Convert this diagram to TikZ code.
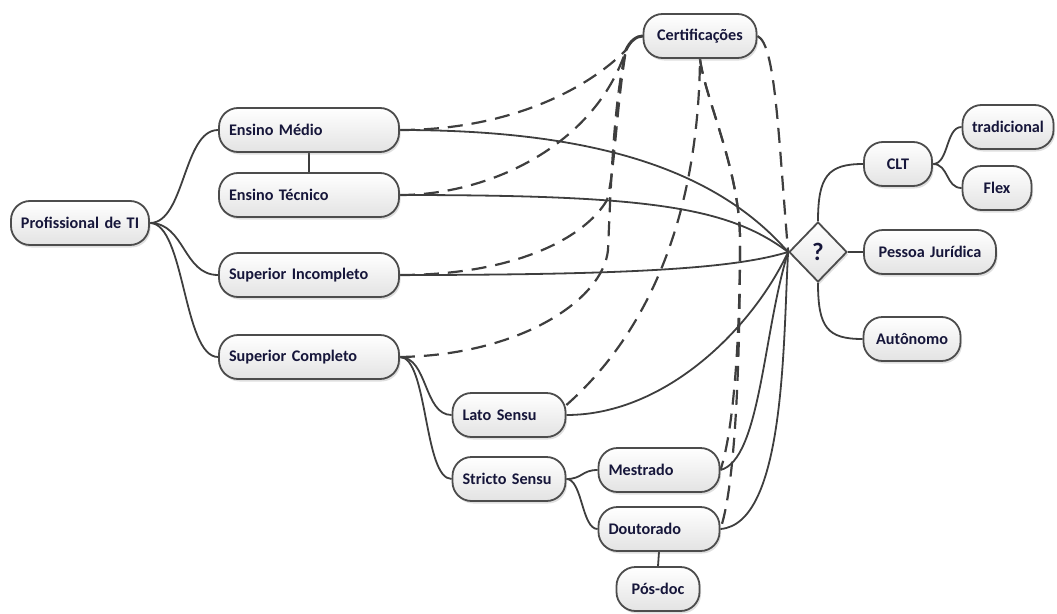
\documentclass[tikz,border=0pt]{standalone}
\usepackage{fontspec}
\setmainfont{Carlito}
\usetikzlibrary{shapes.geometric,shadows,backgrounds}
\definecolor{ink}{RGB}{22,22,58}
\definecolor{edge}{RGB}{62,62,62}
\definecolor{rim}{RGB}{76,76,76}
\tikzset{
  box/.style={draw=rim, line width=1.8pt, rounded corners=19pt,
    top color=white, bottom color=black!11, minimum height=44pt,
    inner ysep=0pt, text=ink, font=\fontsize{16.2}{19}\selectfont\bfseries,
    drop shadow={shadow xshift=1.5pt, shadow yshift=-2.5pt, opacity=0.25}},
  lbox/.style={box, inner xsep=10pt, text width=#1, align=left},
  cbox/.style={box, inner xsep=8pt, text width=#1, align=center},
  qbox/.style={shape=diamond, draw=rim, line width=1.8pt, top color=white,
    bottom color=black!11, minimum width=58pt, minimum height=60pt,
    inner sep=0pt, text=ink, font=\fontsize{25}{27}\selectfont\bfseries,
    drop shadow={shadow xshift=1.5pt, shadow yshift=-2.5pt, opacity=0.25}},
  link/.style={draw=edge, line width=1.8pt},
  cue/.style={draw=edge, line width=2.2pt, dash pattern=on 15pt off 9pt},
}
\begin{document}
\begin{tikzpicture}[x=1pt, y=-1pt]
\useasboundingbox (0,0) rectangle (1057,613);

% mind-map nodes
\node[cbox=122] (prof) at (80,223) {Profissional de TI};
\node[lbox=160] (em) at (309,130) {Ensino Médio};
\node[lbox=160] (et) at (309,195) {Ensino Técnico};
\node[lbox=160] (si) at (309,275) {Superior Incompleto};
\node[lbox=160] (sc) at (309,357) {Superior Completo};
\node[cbox=97] (cert) at (700,36) {Certificações};
\node[lbox=93] (lato) at (509,415) {Lato Sensu};
\node[lbox=93] (stricto) at (509,479) {Stricto Sensu};
\node[lbox=101] (mest) at (659,470) {Mestrado};
\node[lbox=101] (dout) at (659,529) {Doutorado};
\node[cbox=67] (pos) at (658,589) {Pós-doc};
\node[qbox] (q) at (818,252) {?};
\node[cbox=52] (clt) at (898,164) {CLT};
\node[cbox=75] (trad) at (1008,127) {tradicional};
\node[cbox=53] (flex) at (997,188) {Flex};
\node[cbox=116] (pj) at (930,252) {Pessoa Jurídica};
\node[cbox=81] (aut) at (912,339) {Autônomo};

\coordinate (cin) at (626,50);

\begin{scope}[on background layer]
% tree branches
\path[link] (prof.east) .. controls +(35,0) and +(-35,0) .. (em.west);
\path[link] (prof.east) .. controls +(35,0) and +(-35,0) .. (si.west);
\path[link] (prof.east) .. controls +(35,0) and +(-35,0) .. (sc.west);
\path[link] (em.south) -- (et.north);
\path[link] (sc.east) .. controls +(28,0) and +(-28,0) .. (lato.west);
\path[link] (sc.east) .. controls +(28,0) and +(-28,0) .. (stricto.west);
\path[link] (stricto.east) .. controls +(16,0) and +(-16,0) .. (mest.west);
\path[link] (stricto.east) .. controls +(16,0) and +(-16,0) .. (dout.west);
\path[link] (dout.south) -- (pos.north);
\path[link] (q.north) .. controls +(0,-45) and +(-35,0) .. (clt.west);
\path[link] (q.east) -- (pj.west);
\path[link] (q.south) .. controls +(0,45) and +(-35,0) .. (aut.west);
\path[link] (clt.east) .. controls +(16,0) and +(-16,0) .. (trad.west);
\path[link] (clt.east) .. controls +(16,0) and +(-16,0) .. (flex.west);

% routes into the decision point
\path[link] (em.east) .. controls +(200,0) and +(-70,-80) .. (q.west);
\path[link] (et.east) .. controls +(250,0) and +(-60,-45) .. (q.west);
\path[link] (si.east) .. controls +(250,0) and +(-50,15) .. (q.west);
\path[link] (lato.east) .. controls +(100,0) and +(-35,75) .. (q.west);
\path[link] (mest.east) .. controls +(40,-10) and +(-25,80) .. (q.west);
\path[link] (dout.east) .. controls +(65,-5) and +(-5,90) .. (q.west);

% optional certification routes
\path[cue] (em.east) .. controls +(100,0) and +(-45,45) .. (cin);
\path[cue] (et.east) .. controls +(90,0) and +(-31,95) .. (cin);
\path[cue] (si.east) .. controls +(120,0) and +(-20,35) .. (607,200)
           .. controls +(8,-30) and +(-10,60) .. (cin);
\path[cue] (sc.east) .. controls +(120,-2) and +(-5,50) .. (608,250)
           .. controls +(3,-70) and +(-12,50) .. (cin);
\path[cue] ([yshift=10pt]lato.east) .. controls (640,340) and (698,230) .. (cert.south);
\path[cue] (cert.south) .. controls +(5,40) and +(0,-70) .. (740,240)
           .. controls +(0,110) and +(12,-35) .. (mest.east);
\path[cue] (cert.south) .. controls +(5,40) and +(0,-70) .. (740,240)
           .. controls +(0,160) and +(12,-35) .. (dout.east);
\path[cue] (cert.east) .. controls +(18,8) and +(-10,-120) .. (q.west);
\path[draw=edge, line width=3pt, line cap=round] (cin) .. controls +(4,-9) and +(-6,0) .. (cert.west);
\end{scope}
\end{tikzpicture}
\end{document}
